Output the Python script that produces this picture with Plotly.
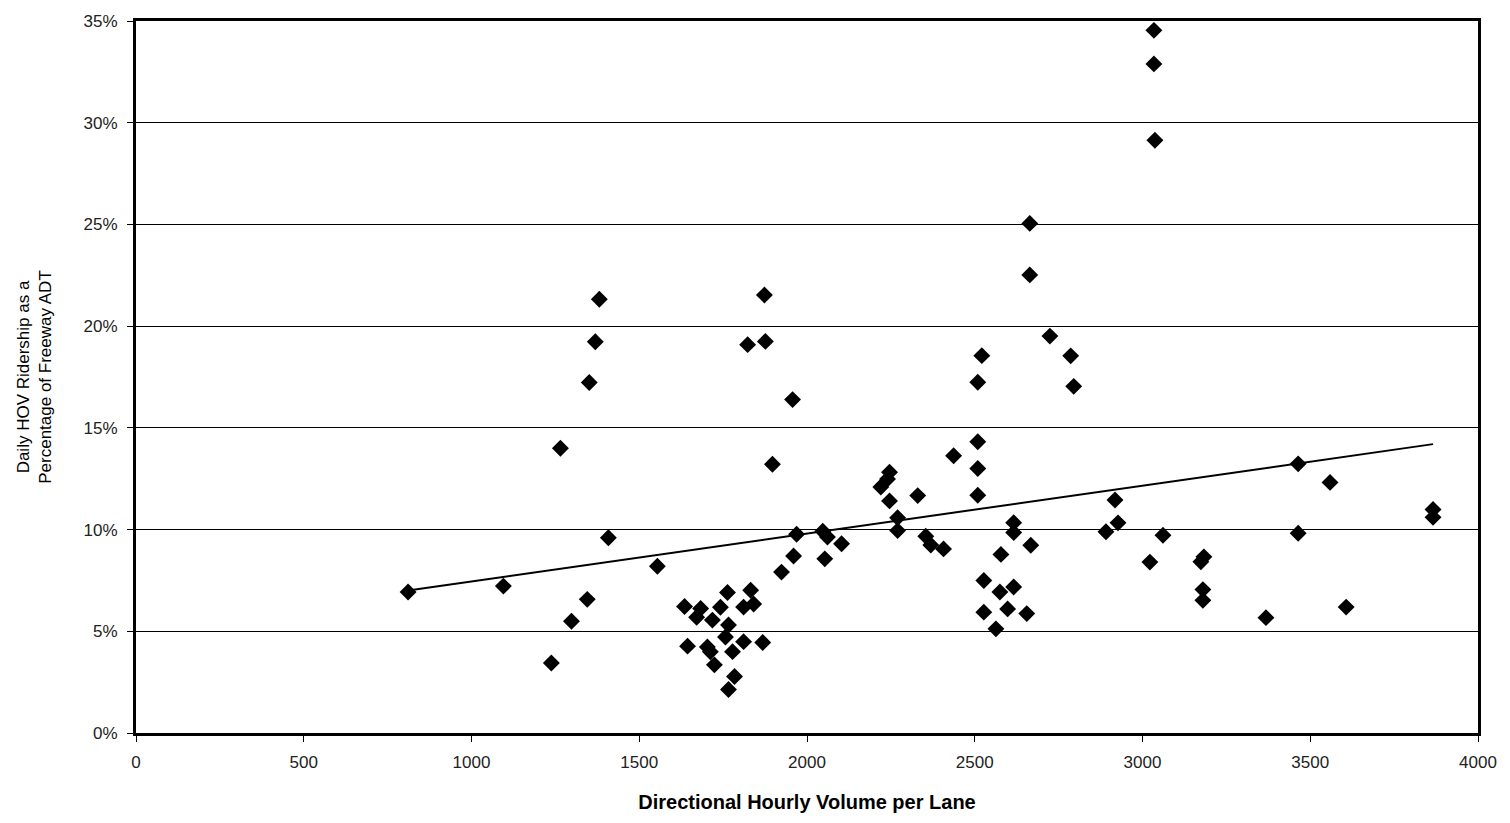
import plotly.graph_objects as go

# Directional hourly volume per lane (x) and HOV ridership share (%) (y)
volume = [811, 1095, 1238, 1265, 1298, 1345, 1351, 1369, 1381, 1408, 1554, 1635, 1644,
          1873, 1823, 1876, 1957, 1897, 1969, 2047, 2061, 2103, 1960, 2053, 1924,
          2246, 2240, 2220, 2246, 2330, 2270, 2270,
          1683, 1671, 1718, 1742, 1763, 1766, 1757, 1811, 1832, 1841,
          1703, 1712, 1778, 1811, 1868, 1724, 1784, 1766,
          2509, 2509, 2509, 2509, 2795, 2437, 2354, 2369, 2407, 2616, 2616, 2667, 2578,
          2918, 2927, 2891, 3061, 3022, 2527, 2575, 2616, 2527, 2598, 2655, 2563,
          3034, 3034, 3037, 2664, 2664, 2724, 2521, 2786,
          3464, 3464, 3559, 3183, 3174, 3180, 3180, 3368, 3607, 3866, 3866]
share = [6.93, 7.22, 3.44, 14.0, 5.49, 6.57, 17.23, 19.23, 21.32, 9.6, 8.2, 6.22, 4.27,
         21.53, 19.09, 19.25, 16.39, 13.21, 9.77, 9.92, 9.63, 9.30, 8.70, 8.56, 7.91,
         12.82, 12.48, 12.09, 11.41, 11.67, 10.58, 9.95,
         6.12, 5.69, 5.55, 6.18, 6.91, 5.31, 4.72, 6.19, 7.02, 6.34,
         4.23, 3.99, 4.0, 4.49, 4.45, 3.35, 2.78, 2.14,
         17.24, 14.32, 13.0, 11.69, 17.04, 13.63, 9.67, 9.24, 9.05, 10.34, 9.85, 9.23, 8.78,
         11.45, 10.33, 9.89, 9.72, 8.4, 7.5, 6.93, 7.18, 5.94, 6.1, 5.87, 5.12,
         34.54, 32.89, 29.14, 25.05, 22.52, 19.51, 18.55, 18.54,
         13.23, 9.82, 12.32, 8.66, 8.42, 7.05, 6.52, 5.67, 6.19, 10.99, 10.6]

# Linear trendline end points
trend_x = [811, 3866]
trend_y = [7.0, 14.2]

x_ticks = [0, 500, 1000, 1500, 2000, 2500, 3000, 3500, 4000]
y_ticks = [0, 5, 10, 15, 20, 25, 30, 35]
y_labels = [f"{v}%" for v in y_ticks]

font_family = "Liberation Sans, Arial, sans-serif"

fig = go.Figure()
fig.add_trace(go.Scatter(
    x=volume, y=share, mode="markers",
    marker=dict(symbol="diamond", size=13, color="black", line=dict(width=0)),
    showlegend=False, hoverinfo="x+y"))
fig.add_trace(go.Scatter(
    x=trend_x, y=trend_y, mode="lines",
    line=dict(color="black", width=2), showlegend=False, hoverinfo="skip"))

fig.update_layout(
    width=1510, height=823,
    margin=dict(l=136, r=32, t=12, b=90),
    paper_bgcolor="white", plot_bgcolor="white",
    font=dict(family=font_family, color="black", size=16),
    xaxis=dict(
        range=[0, 4000], tickvals=x_ticks, ticktext=[str(v) for v in x_ticks],
        showgrid=False, zeroline=False,
        showline=True, linecolor="black", linewidth=3, mirror=True,
        ticks="outside", ticklen=6, tickcolor="black", tickwidth=1,
        ticklabelstandoff=6,
        tickfont=dict(size=17, family=font_family, color="#222"),
        title=dict(text="<b>Directional Hourly Volume per Lane</b>",
                   font=dict(size=20, family=font_family), standoff=24),
    ),
    yaxis=dict(
        range=[0, 35], tickvals=y_ticks, ticktext=y_labels,
        showgrid=True, gridcolor="black", gridwidth=1, zeroline=False,
        showline=True, linecolor="black", linewidth=3, mirror=True,
        ticks="outside", ticklen=6, tickcolor="black", tickwidth=1,
        ticklabelstandoff=6,
        tickfont=dict(size=17, family=font_family, color="#222"),
        title=dict(text="Daily HOV Ridership as a<br>Percentage of Freeway ADT",
                   font=dict(size=17, family=font_family), standoff=28),
    ),
)

fig.write_html("out.html")
